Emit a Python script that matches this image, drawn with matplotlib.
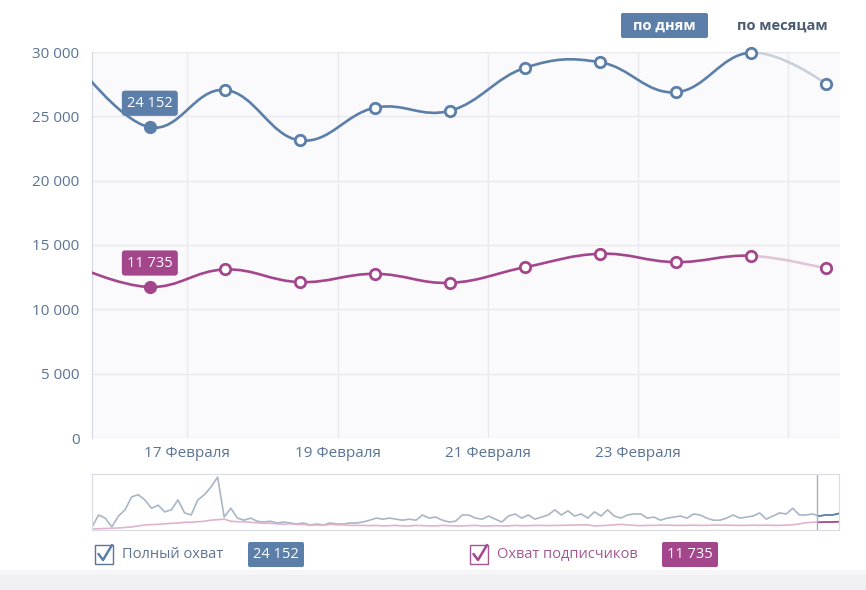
import numpy as np
import matplotlib
matplotlib.use("Agg")
import matplotlib.pyplot as plt
from matplotlib.path import Path
from matplotlib.patches import PathPatch, Rectangle, FancyBboxPatch

plt.rcParams['font.family'] = ['Open Sans', 'DejaVu Sans']

# daily values (first one sits left of the visible window)
days = [15, 16, 17, 18, 19, 20, 21, 22, 23, 24, 25]
total_reach = [29300, 24152, 27050, 23130, 25670, 25440, 28780, 29200, 26870, 29950, 27540]
subs_reach = [13400, 11735, 13100, 12115, 12760, 12060, 13280, 14320, 13670, 14160, 13180]
hover_idx = 1

tick_days = [17, 19, 21, 23, 25]
tick_labels = ["17 Февраля", "19 Февраля", "21 Февраля", "23 Февраля", ""]
y_ticks = [0, 5000, 10000, 15000, 20000, 25000, 30000]

# navigator (whole year, one value every 3 days, thousands)
nav_total = [4, 27, 21, 4, 25, 37, 62, 66, 56, 40, 46, 33, 37, 56, 31, 27, 56, 66, 81, 100,
             23, 40, 21, 17, 21, 15, 13.5, 15, 11.6, 13.5, 11.6, 9.7, 11.6, 7.7, 9.7, 7.7, 11.6, 9.7, 9.7, 11.6,
             11.6, 13.5, 17, 21, 19, 21, 19, 17, 19, 17, 27, 21, 23, 17, 13.5, 15, 27, 27, 21, 19,
             25, 19, 13.5, 25, 29, 21, 27, 19, 23, 27, 37, 27, 35, 25, 29, 21, 33, 25, 37, 25,
             21, 27, 29, 29, 21, 23, 17, 21, 23, 25, 21, 29, 27, 21, 17, 17, 21, 27, 21, 23,
             25, 31, 19, 25, 31, 29, 40, 27, 27, 29, 25, 27, 27, 30]
nav_subs = [0.5, 0.5, 1, 1.5, 2, 3, 4, 6, 7.7, 8.5, 9, 10, 11, 11.5, 13, 13, 14, 15, 17, 18,
            19, 15, 14, 14, 13, 12, 11, 11, 10, 9, 10, 8.5, 9, 7, 8, 7, 9, 8, 8, 7,
            7, 7, 6.5, 7, 6, 6.5, 7, 6, 6, 7, 6.5, 6, 6, 7, 6.5, 6, 6, 6.5, 7, 6,
            6, 6.5, 6, 6, 7, 6.5, 6.5, 7, 7, 6.5, 7, 7, 7.5, 7.5, 8, 8, 6, 6.5, 7, 8,
            9, 8, 7, 6.5, 7, 7, 7.5, 7.5, 7, 7, 7, 7.5, 7, 7, 7.5, 7.5, 7.5, 7, 7, 7,
            7.5, 7, 7.5, 7, 7, 7.5, 8, 10, 12, 13, 13, 13.5, 13.5, 14]

BLUE = "#5b7fa8"
BLUE_FADE = "#c9d0dc"
PINK = "#a4468c"
PINK_FADE = "#e2c6d8"
TICK = "#5a7393"
GRID = "#e9e9ef"

W, H = 866, 590


def rect(l, t, r, b):
    return [l / W, 1 - b / H, (r - l) / W, (b - t) / H]


def spline_segments(x, y, smoothing=1.5):
    # highcharts-like spline control points (no extreme clamping)
    n = len(x)
    lc = [None] * n
    rc = [None] * n
    d = smoothing + 1
    for i in range(1, n - 1):
        px_, py_ = x[i], y[i]
        lx, ly = x[i - 1], y[i - 1]
        nx, ny = x[i + 1], y[i + 1]
        lcx = (smoothing * px_ + lx) / d
        lcy = (smoothing * py_ + ly) / d
        rcx = (smoothing * px_ + nx) / d
        rcy = (smoothing * py_ + ny) / d
        corr = ((rcy - lcy) * (rcx - px_)) / (rcx - lcx) + py_ - rcy
        lc[i] = (lcx, lcy + corr)
        rc[i] = (rcx, rcy + corr)
    segs = []
    for i in range(1, n):
        c1 = rc[i - 1] or (x[i - 1], y[i - 1])
        c2 = lc[i] or (x[i], y[i])
        segs.append([(x[i - 1], y[i - 1]), c1, c2, (x[i], y[i])])
    return segs


def segs_path(segs):
    verts = [segs[0][0]]
    codes = [Path.MOVETO]
    for s in segs:
        verts += s[1:]
        codes += [Path.CURVE4] * 3
    return Path(verts, codes)


def fmt(v):
    return f"{v:,}".replace(",", " ")


fig = plt.figure(figsize=(W / 100, H / 100), dpi=100)
fig.patch.set_facecolor("white")

# main chart
ax = fig.add_axes(rect(92, 52, 840, 438))
ax.set_facecolor("#fafafc")
x = np.array(days) + 0.5
ax.set_xlim(15.73, 25.69)
ax.set_ylim(0, 30000)
ax.set_yticks(y_ticks)
ax.set_yticklabels([fmt(v) for v in y_ticks])
ax.set_xticks(tick_days)
ax.set_xticklabels(tick_labels)
ax.tick_params(length=0, labelsize=11, labelcolor=TICK)
ax.tick_params(axis='y', pad=9)
ax.tick_params(axis='x', pad=6)
ax.grid(True, color=GRID, lw=1)
ax.set_axisbelow(True)
for s in ["top", "right", "bottom"]:
    ax.spines[s].set_visible(False)
ax.spines["left"].set_color("#d3d7df")

for vals, col, fade in [(total_reach, BLUE, BLUE_FADE), (subs_reach, PINK, PINK_FADE)]:
    segs = spline_segments(list(x), list(vals))
    ax.add_patch(PathPatch(segs_path(segs[:-1]), fc="none", ec=col, lw=1.9, zorder=3))
    ax.add_patch(PathPatch(segs_path(segs[-1:]), fc="none", ec=fade, lw=1.9, zorder=3))
    others = [i for i in range(1, len(vals)) if i != hover_idx]
    ax.plot(x[others], np.array(vals)[others], "o", ms=7.5, mfc="white", mec=col, mew=2,
            zorder=4, clip_on=False)
    ax.plot(x[hover_idx], vals[hover_idx], "o", ms=8.5, mfc=col, mec=col, zorder=4)
    ax.annotate(fmt(vals[hover_idx]), xy=(x[hover_idx], vals[hover_idx]),
                xytext=(0, 24), textcoords="offset pixels", ha="center", va="center",
                fontsize=10.5, color="white", zorder=6,
                bbox=dict(boxstyle="round,pad=0.35,rounding_size=0.2", fc=col, ec="none"))

# navigator
nav = fig.add_axes(rect(92, 474, 839, 530))
nav_x = np.arange(len(nav_total)) * 3
nav.set_xlim(0, nav_x[-1])
nav.set_ylim(-1.9, 106)
nav.set_xticks([])
nav.set_yticks([])
for s in nav.spines.values():
    s.set_color("#d9dce4")
sel0 = nav_x[-1] - 10
nav.plot(nav_x, nav_total, color="#aab5c8", lw=1.2)
nav.plot(nav_x, nav_subs, color="#dfb3cf", lw=1.2)
clip = Rectangle((sel0, -5), 20, 120, transform=nav.transData)
l1, = nav.plot(nav_x, nav_total, color=BLUE, lw=1.2)
l2, = nav.plot(nav_x, nav_subs, color=PINK, lw=1.2)
l1.set_clip_path(clip)
l2.set_clip_path(clip)
nav.axvline(sel0, color="#a8aebb", lw=1)

# overlay for controls and legend, pixel coordinates
ui = fig.add_axes([0, 0, 1, 1])
ui.set_xlim(0, W)
ui.set_ylim(H, 0)
ui.axis("off")
ui.patch.set_visible(False)

ui.add_patch(Rectangle((0, 575), W, 15, fc="#f0f0f3", ec="none"))
ui.add_patch(Rectangle((0, 570), W, 5, fc="#f6f6f8", ec="none"))

ui.add_patch(FancyBboxPatch((621, 13), 87, 25, boxstyle="round,pad=0,rounding_size=2",
                            fc=BLUE, ec="none"))
ui.text(664.5, 25.5, "по дням", ha="center", va="center", color="white",
        fontsize=10.5, fontweight="bold")
ui.text(782, 25.5, "по месяцам", ha="center", va="center", color="#4b5b72",
        fontsize=10.5, fontweight="bold")

legend = [("Полный охват", total_reach[hover_idx], BLUE, "#607592", 95, 248),
          ("Охват подписчиков", subs_reach[hover_idx], PINK, "#a25892", 470, 662)]
for label, val, col, tcol, bx, badge_x in legend:
    ui.add_patch(Rectangle((bx, 545), 18, 19, fc="white", ec=tcol, lw=1))
    ui.plot([bx + 3.5, bx + 8, bx + 17], [554, 560, 545], color=col, lw=1.8,
            solid_capstyle="round", solid_joinstyle="round")
    ui.text(bx + 27, 554.5, label, ha="left", va="center", color=tcol, fontsize=10.5)
    ui.add_patch(FancyBboxPatch((badge_x, 542), 56, 25, boxstyle="round,pad=0,rounding_size=2",
                                fc=col, ec="none"))
    ui.text(badge_x + 28, 554.5, fmt(val), ha="center", va="center", color="white",
            fontsize=10.5)

fig.savefig("out.png", dpi=100)
